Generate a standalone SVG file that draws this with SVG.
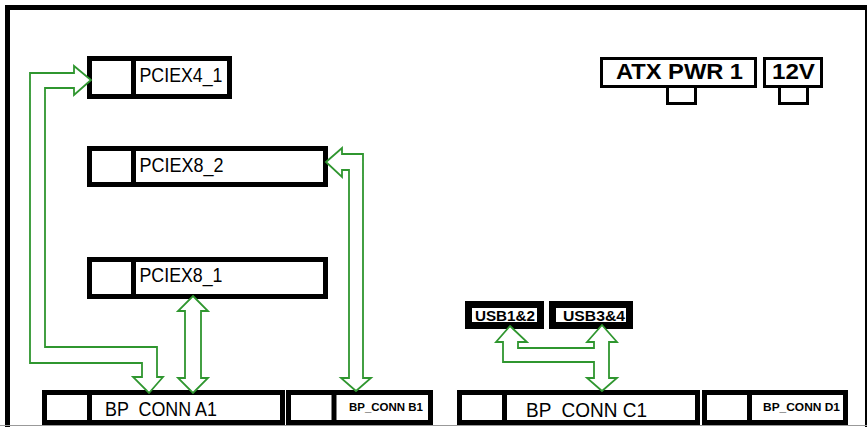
<svg xmlns="http://www.w3.org/2000/svg" width="867" height="427" viewBox="0 0 867 427">
<style>
.box{fill:#fff;stroke:#000;stroke-width:5}
.div{stroke:#000;stroke-width:5}
.usb{fill:#fff;stroke:#000;stroke-width:7}
.pwr{fill:#fff;stroke:#000;stroke-width:3}
.arr{fill:#fff;stroke:#2f962f;stroke-width:1.8;stroke-linejoin:miter}
.t{font-family:"Liberation Sans",Arial,sans-serif;fill:#000}
.big{font-size:20px}
.sm{font-size:11.5px;font-weight:bold}
.usbt{font-size:14.5px;font-weight:bold}
.pw{font-size:22px;font-weight:bold}
</style>
<rect x="0" y="0" width="867" height="427" fill="#fff"/>
<rect id="frame" x="7.5" y="7.5" width="860" height="430" fill="none" stroke="#000" stroke-width="5"/>
<line x1="0" y1="425.5" x2="867" y2="425.5" stroke="#999" stroke-width="1"/>

<g id="PCIEX4_1">
<rect class="box" x="89.5" y="58.5" width="140" height="38"/>
<line class="div" x1="133.5" y1="56" x2="133.5" y2="99"/>
<text class="t big" x="139.5" y="82" textLength="83" lengthAdjust="spacingAndGlyphs">PCIEX4_1</text>
</g>
<g id="PCIEX8_2">
<rect class="box" x="89.5" y="148.5" width="236" height="36"/>
<line class="div" x1="133.5" y1="146" x2="133.5" y2="187"/>
<text class="t big" x="139.5" y="172" textLength="84" lengthAdjust="spacingAndGlyphs">PCIEX8_2</text>
</g>
<g id="PCIEX8_1">
<rect class="box" x="89.5" y="259.5" width="236" height="37"/>
<line class="div" x1="133.5" y1="257" x2="133.5" y2="299"/>
<text class="t big" x="139.5" y="282" textLength="83" lengthAdjust="spacingAndGlyphs">PCIEX8_1</text>
</g>

<g id="ATX_PWR_1">
<rect class="pwr" x="667.5" y="86.5" width="28" height="17"/>
<rect class="pwr" x="601.5" y="58.5" width="154" height="28"/>
<text class="t pw" x="616" y="79" textLength="127" lengthAdjust="spacingAndGlyphs">ATX PWR 1</text>
</g>
<g id="P12V">
<rect class="pwr" x="779.5" y="86.5" width="28" height="17"/>
<rect class="pwr" x="764.5" y="58.5" width="57" height="28"/>
<text class="t pw" x="772" y="79" textLength="43" lengthAdjust="spacingAndGlyphs">12V</text>
</g>

<g id="USB1_2">
<rect class="usb" x="468.5" y="304.5" width="72" height="21"/>
<text class="t usbt" x="475" y="321" textLength="60" lengthAdjust="spacingAndGlyphs">USB1&amp;2</text>
</g>
<g id="USB3_4">
<rect class="usb" x="552.5" y="304.5" width="77" height="21"/>
<text class="t usbt" x="563" y="321" textLength="62" lengthAdjust="spacingAndGlyphs">USB3&amp;4</text>
</g>

<g id="BP_CONN_A1">
<rect class="box" x="44.5" y="392.5" width="238" height="30"/>
<line class="div" x1="89.5" y1="390" x2="89.5" y2="425"/>
<text class="t big" x="105" y="416" textLength="112" lengthAdjust="spacingAndGlyphs" xml:space="preserve">BP  CONN A1</text>
</g>
<g id="BP_CONN_B1">
<rect class="box" x="288.5" y="392.5" width="142" height="30"/>
<line class="div" x1="334" y1="390" x2="334" y2="425"/>
<text class="t sm" x="349" y="411" textLength="74" lengthAdjust="spacingAndGlyphs">BP_CONN B1</text>
</g>
<g id="BP_CONN_C1">
<rect class="box" x="459.5" y="392.5" width="238" height="30"/>
<line class="div" x1="504.5" y1="390" x2="504.5" y2="425"/>
<text class="t big" x="526" y="417" textLength="121" lengthAdjust="spacingAndGlyphs" xml:space="preserve">BP  CONN C1</text>
</g>
<g id="BP_CONN_D1">
<rect class="box" x="704.5" y="392.5" width="141" height="30"/>
<line class="div" x1="749.5" y1="390" x2="749.5" y2="425"/>
<text class="t sm" x="763" y="411" textLength="77" lengthAdjust="spacingAndGlyphs">BP_CONN D1</text>
</g>

<g id="connectors">
<path class="arr" d="M91,80 L74,95 L74,88 L45,88 L45,347 L157,347 L157,377 L163,377 L149,393 L133,377 L142,377 L142,363 L30,363 L30,73 L74,73 L74,66 Z"/>
<path class="arr" d="M193,296 L208,311 L201,311 L201,378 L208,378 L193,393 L178,378 L185,378 L185,311 L178,311 Z"/>
<path class="arr" d="M326,162 L342,148 L342,154 L363,154 L363,378 L371,378 L356,391 L341,378 L349,378 L349,170 L342,170 L342,177 Z"/>
<path class="arr" d="M510,326 L527,342 L518,342 L518,348 L594,348 L594,342 L587,342 L602,325 L617,342 L609,342 L609,378 L617,378 L602,391 L587,378 L594,378 L594,362 L503,362 L503,342 L496,342 Z"/>
</g>
</svg>
